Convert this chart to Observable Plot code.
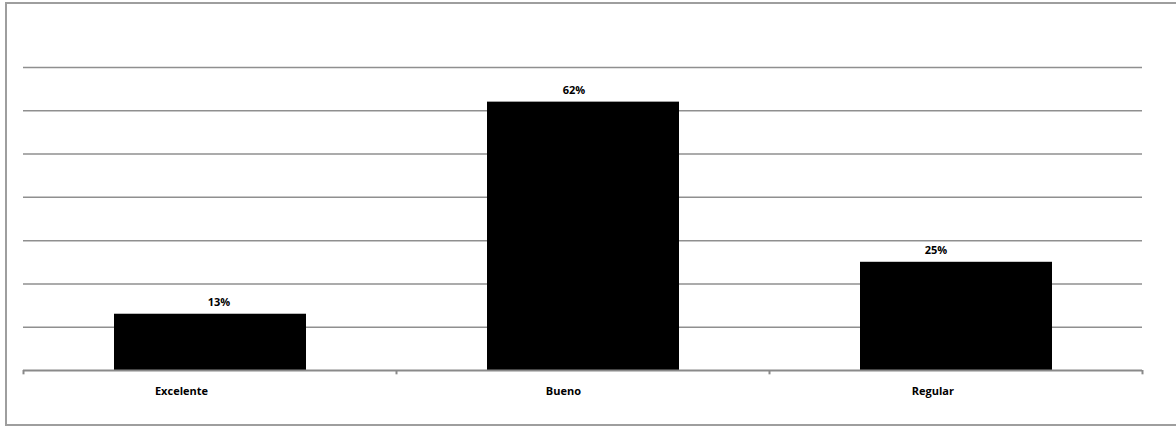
<!DOCTYPE html>
<html>
<head>
<meta charset="utf-8">
<script src="https://cdn.jsdelivr.net/npm/d3@7"></script>
<script src="https://cdn.jsdelivr.net/npm/@observablehq/plot@0.6"></script>
<style>
  html, body { margin: 0; padding: 0; background: #fff; overflow: hidden; }
  #wrap { position: relative; width: 1176px; height: 429px; }
  #border {
    position: absolute; left: 5px; top: 2px; width: 1200px; height: 424px;
    border: 2px solid #9e9e9e; box-sizing: border-box; pointer-events: none;
  }
  #chart { position: absolute; left: 0; top: 0; }
</style>
</head>
<body>
<div id="wrap">
  <div id="chart"></div>
  <div id="border"></div>
</div>
<script>
// Survey ratings: share of responses per category
const categories = ["Excelente", "Bueno", "Regular"];
const shares = [0.13, 0.62, 0.25];
const gridTicks = [0.1, 0.2, 0.3, 0.4, 0.5, 0.6, 0.7];

const data = categories.map((c, i) => ({category: c, share: shares[i]}));

const W = 1176, H = 429;
const marginLeft = 23, marginRight = 34;
const band = (W - marginLeft - marginRight) / categories.length;
const font = "'Open Sans', 'Liberation Sans', sans-serif";

// small horizontal nudges for the value labels, per bar
const labelNudge = {Excelente: 9, Bueno: -9, Regular: -20};

const chart = Plot.plot({
  width: W,
  height: H,
  marginLeft,
  marginRight,
  marginTop: 67,
  marginBottom: 59,
  style: {fontFamily: font, background: "transparent"},
  x: {domain: categories, padding: 0, axis: null},
  y: {domain: [0, 0.7], axis: null},
  marks: [
    // horizontal gridlines
    Plot.ruleY(gridTicks, {stroke: "#8f8f8f", strokeWidth: 1.5}),
    // bars
    Plot.barY(data, {
      x: "category", y: "share", fill: "#000",
      insetLeft: 91, insetRight: 90
    }),
    // category axis line with boundary ticks
    Plot.ruleY([0], {stroke: "#8a8a8a", strokeWidth: 2}),
    Plot.ruleX(categories, {x: d => d, y1: 0, y2: -0.01, dx: -band / 2, stroke: "#8a8a8a", strokeWidth: 2}),
    Plot.ruleX(categories.slice(-1), {x: d => d, y1: 0, y2: -0.01, dx: band / 2, stroke: "#8a8a8a", strokeWidth: 2}),
    // value labels
    ...data.map(d => Plot.text([d], {
      x: "category", y: "share",
      text: r => Math.round(r.share * 100) + "%",
      dx: labelNudge[d.category], dy: -12,
      fontWeight: "bold", fontSize: 11, fill: "#000"
    })),
    // category labels
    Plot.text(data, {
      x: "category", y: 0, text: "category",
      textAnchor: "end", dx: -2, dy: 21,
      fontWeight: "bold", fontSize: 11, fill: "#000"
    })
  ]
});

document.getElementById("chart").appendChild(chart);
</script>
</body>
</html>
